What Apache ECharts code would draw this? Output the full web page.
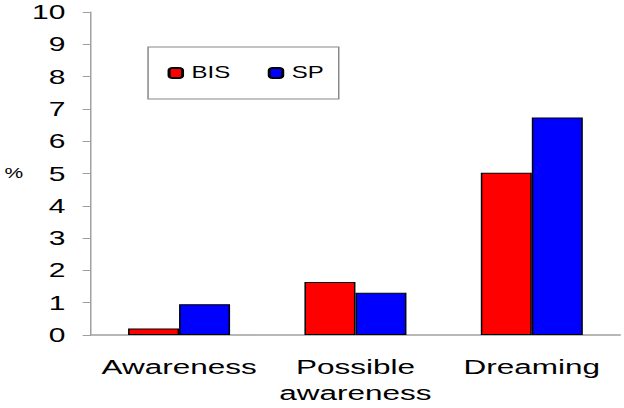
<!DOCTYPE html>
<html>
<head>
<meta charset="utf-8">
<script src="https://cdn.jsdelivr.net/npm/echarts@6/dist/echarts.min.js"></script>
<style>
html,body{margin:0;padding:0;background:#fff;overflow:hidden;}
#c{width:416px;height:408px;transform:scaleX(1.5);transform-origin:0 0;}
</style>
</head>
<body>
<div id="c"></div>
<script>
var categories = ['Awareness', 'Possible\nawareness', 'Dreaming'];
var seriesNames = ['BIS', 'SP'];
var bisValues = [0.2, 1.64, 5.02];
var spValues = [0.95, 1.31, 6.73];
var yTicks = [0, 1, 2, 3, 4, 5, 6, 7, 8, 9, 10];

var font = "'Liberation Sans', Arial, sans-serif";
var chart = echarts.init(document.getElementById('c'), null, {renderer: 'svg'});
chart.setOption({
  animation: false,
  backgroundColor: '#fff',
  textStyle: {fontFamily: font},
  legend: {
    left: 98.7, top: 47,
    padding: [18, 10, 18, 13],
    borderColor: '#888', borderWidth: 1,
    itemWidth: 9, itemHeight: 10, itemGap: 25,
    textStyle: {fontSize: 16, color: '#000', fontFamily: font, padding: [0, 0, 0, 1]},
    data: seriesNames
  },
  grid: {left: 59.33, right: 2.67, top: 12, bottom: 73},
  xAxis: {
    type: 'category',
    data: categories,
    axisLine: {lineStyle: {color: '#a0a0a0', width: 1.5}},
    axisTick: {show: false},
    axisLabel: {interval: 0, fontSize: 21, lineHeight: 26, color: '#000', margin: 19, fontFamily: font}
  },
  yAxis: {
    type: 'value', min: yTicks[0], max: yTicks[yTicks.length - 1], interval: 1,
    name: '%', nameLocation: 'middle', nameRotate: 0, nameGap: 45,
    nameTextStyle: {fontSize: 14, color: '#000', fontFamily: font},
    axisLine: {show: true, lineStyle: {color: '#a0a0a0', width: 1}},
    axisTick: {show: true, length: 5.5, lineStyle: {color: '#a0a0a0'}},
    axisLabel: {fontSize: 20, color: '#000', margin: 17, fontFamily: font},
    splitLine: {show: false}
  },
  series: [
    {name: seriesNames[0], type: 'bar', data: bisValues, barWidth: 34, barGap: '0%',
     itemStyle: {color: '#ff0000', borderColor: '#000', borderWidth: 1}},
    {name: seriesNames[1], type: 'bar', data: spValues, barWidth: 34, barGap: '0%',
     itemStyle: {color: '#0000ff', borderColor: '#000', borderWidth: 1}}
  ]
});
</script>
</body>
</html>
